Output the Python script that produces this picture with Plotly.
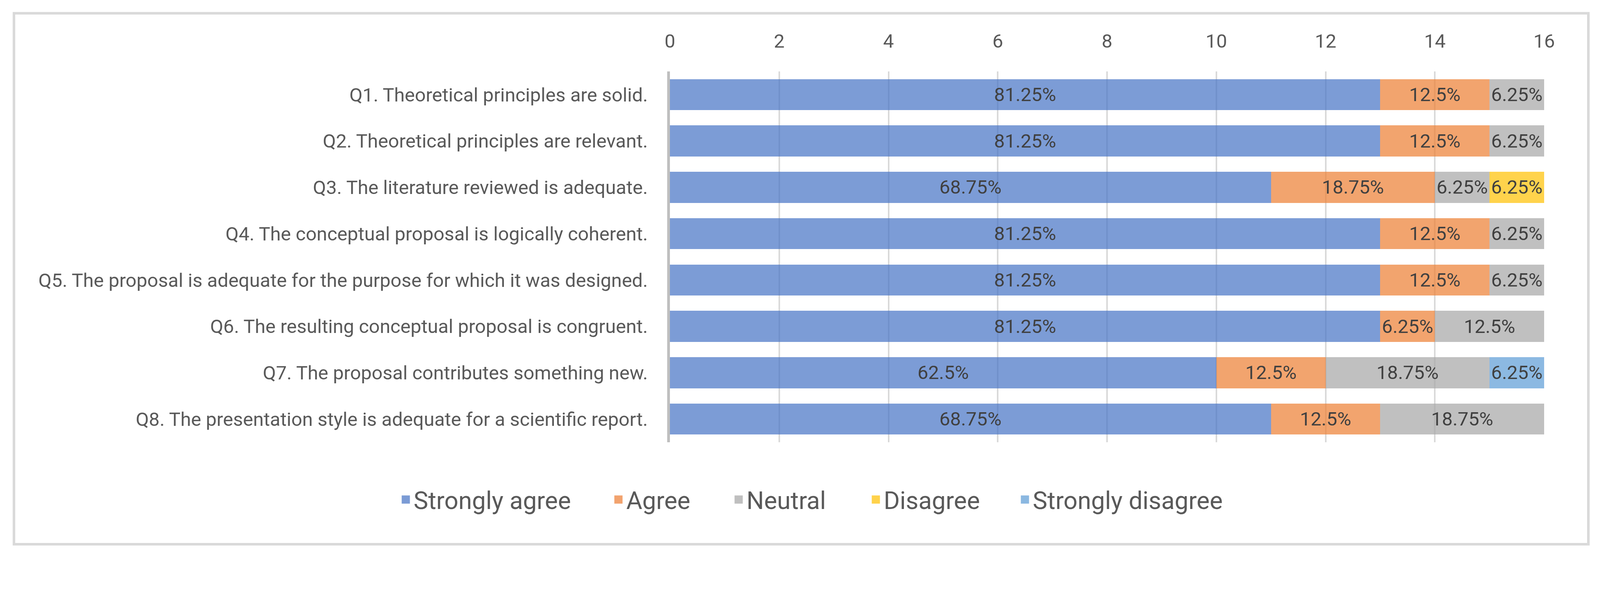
import plotly.graph_objects as go

questions = [
    "Q1. Theoretical principles are solid.",
    "Q2. Theoretical principles are relevant.",
    "Q3. The literature reviewed is adequate.",
    "Q4. The conceptual proposal is logically coherent.",
    "Q5. The proposal is adequate for the purpose for which it was designed.",
    "Q6. The resulting conceptual proposal is congruent.",
    "Q7. The proposal contributes something new.",
    "Q8. The presentation style is adequate for a scientific report.",
]
total = 16
strongly_agree = [13, 13, 11, 13, 13, 13, 10, 11]
agree = [2, 2, 3, 2, 2, 1, 2, 2]
neutral = [1, 1, 1, 1, 1, 2, 3, 3]
disagree = [0, 0, 1, 0, 0, 0, 0, 0]
strongly_disagree = [0, 0, 0, 0, 0, 0, 1, 0]
x_ticks = [0, 2, 4, 6, 8, 10, 12, 14, 16]

series = [
    ("Strongly agree", strongly_agree, "#4472C4"),
    ("Agree", agree, "#ED7D31"),
    ("Neutral", neutral, "#A5A5A5"),
    ("Disagree", disagree, "#FFC000"),
    ("Strongly disagree", strongly_disagree, "#5B9BD5"),
]

FONT = "Roboto"
S = 1 / 1.082          # page px per screenshot px
PW, PH = 4421, 1532     # screenshot size
W, H = round(PW * S), round(PH * S)
L = round(1847 * S)
R = W - round(4269 * S)
T = round(189 * S)
B = H - round(1217 * S)

# legend entry text start positions (screenshot px)
legend_text_x = [1137, 1726, 2059, 2439, 2852]
legend_names = ["legend", "legend2", "legend3", "legend4", "legend5"]

fig = go.Figure()
for name, vals, color in series:
    labels = [f"{v / total * 100:g}%" if v else "" for v in vals]
    fig.add_trace(go.Bar(
        y=questions, x=vals, name=name, orientation="h",
        marker=dict(color=color, opacity=0.7, line=dict(width=0)),
        text=labels, textposition="inside", insidetextanchor="middle",
        textangle=0, constraintext="none",
        textfont=dict(family=FONT, size=49, color="#404040"),
        hoverinfo="skip", showlegend=False,
    ))
for (name, vals, color), lg in zip(series, legend_names):
    fig.add_trace(go.Scatter(
        x=[None], y=[None], mode="markers", name=name, legend=lg,
        marker=dict(symbol="square", size=16, color=color, opacity=0.7,
                    line=dict(width=5, color=color)),
        hoverinfo="skip",
    ))

pw = W - L - R
ph = H - T - B
fig.add_shape(
    type="rect", xref="paper", yref="paper",
    x0=(30 * S - L) / pw, x1=(4391 * S - L) / pw,
    y0=(H - B - 1500 * S) / ph, y1=(H - B - 28 * S) / ph,
    line=dict(color="#D9D9D9", width=6.5), fillcolor="rgba(0,0,0,0)", layer="below",
)

legend_style = dict(
    orientation="h", xref="container", yref="container",
    xanchor="left", yanchor="middle", y=1 - 1376 / PH,
    font=dict(family=FONT, size=63, color="#595959"),
    bgcolor="rgba(0,0,0,0)", borderwidth=0,
    itemclick=False, itemdoubleclick=False,
)
legends = {}
for lg, tx in zip(legend_names, legend_text_x):
    legends[lg] = dict(legend_style, x=(tx * S - 40) / W)

fig.update_layout(
    width=W, height=H, autosize=False,
    barmode="stack", bargap=0.33,
    paper_bgcolor="white", plot_bgcolor="white",
    margin=dict(l=L, r=R, t=T, b=B, autoexpand=False),
    uniformtext=dict(mode="show", minsize=49),
    showlegend=True,
    xaxis=dict(
        side="top", range=[0, 16], tickvals=x_ticks, ticks="",
        showgrid=True, gridcolor="#D9D9D9", gridwidth=4,
        zeroline=False, showline=False,
        tickfont=dict(family=FONT, size=49, color="#595959"),
        ticklabelstandoff=50, fixedrange=True,
    ),
    yaxis=dict(
        autorange="reversed", showgrid=False, zeroline=False,
        showline=True, linecolor="#BFBFBF", linewidth=6.5, ticks="",
        tickfont=dict(family=FONT, size=49, color="#595959"),
        ticklabelstandoff=40, fixedrange=True,
    ),
    **legends,
)

fig.write_html("out.html")
